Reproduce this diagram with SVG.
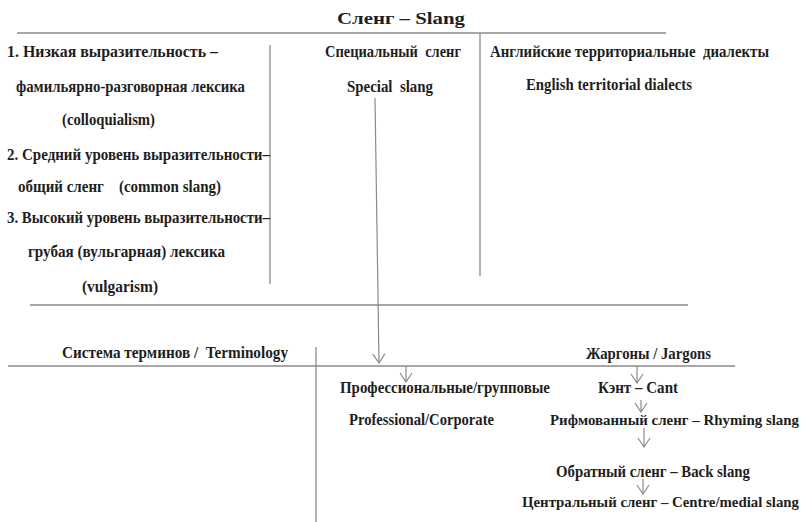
<svg xmlns="http://www.w3.org/2000/svg" width="804" height="522" viewBox="0 0 804 522">
<style>
text{font-family:'Liberation Serif','Times New Roman',serif;font-weight:bold;font-size:16.5px;fill:#1e1e1e}
.sm{font-size:15px}
.ln{stroke:#8a8a8a;stroke-width:1.3;fill:none}
.ar{stroke:#8a8a8a;stroke-width:1.2;fill:none;marker-end:url(#v)}
</style>
<defs>
<marker id="v" viewBox="-1 -7 11 14" refX="9" refY="0" markerWidth="11" markerHeight="14" markerUnits="userSpaceOnUse" orient="auto">
<path d="M0,-6 L9,0 L0,6" fill="none" stroke="#8a8a8a" stroke-width="1.2"/>
</marker>
</defs>
<rect width="804" height="522" fill="#fff"/>
<g id="connectors">
<line class="ln" x1="17" y1="33" x2="666" y2="33"/>
<line class="ln" x1="270" y1="45" x2="270" y2="284"/>
<line class="ln" x1="480" y1="33" x2="480" y2="276"/>
<line class="ln" x1="30" y1="305" x2="688" y2="305"/>
<line class="ln" x1="8" y1="366" x2="735" y2="366"/>
<line class="ln" x1="316" y1="347" x2="316" y2="522"/>
<line class="ar" x1="375" y1="98" x2="379" y2="363"/>
<line class="ar" x1="406" y1="366" x2="406" y2="382"/>
<line class="ar" x1="637" y1="366" x2="637" y2="383"/>
<line class="ar" x1="641" y1="400" x2="641" y2="412"/>
<line class="ar" x1="644" y1="428" x2="644" y2="447"/>
<line class="ar" x1="643" y1="479" x2="643" y2="494"/>
</g>
<g id="title"><text x="401" y="24" text-anchor="middle" textLength="128" lengthAdjust="spacingAndGlyphs">Сленг – Slang</text></g>
<g id="expressiveness">
<text x="7" y="57" textLength="211" lengthAdjust="spacingAndGlyphs">1. Низкая выразительность –</text>
<text x="16" y="92" textLength="229" lengthAdjust="spacingAndGlyphs">фамильярно-разговорная лексика</text>
<text x="62" y="125" textLength="93" lengthAdjust="spacingAndGlyphs">(colloquialism)</text>
<text x="7" y="160" textLength="263" lengthAdjust="spacingAndGlyphs">2. Средний уровень выразительности–</text>
<text x="18" y="192" textLength="203" lengthAdjust="spacingAndGlyphs" xml:space="preserve">общий сленг    (common slang)</text>
<text x="7" y="223" textLength="263" lengthAdjust="spacingAndGlyphs">3. Высокий уровень выразительности–</text>
<text x="28" y="257" textLength="197" lengthAdjust="spacingAndGlyphs">грубая (вульгарная) лексика</text>
<text x="82" y="292" textLength="76" lengthAdjust="spacingAndGlyphs">(vulgarism)</text>
</g>
<g id="special">
<text x="325" y="57" textLength="136" lengthAdjust="spacingAndGlyphs" xml:space="preserve">Специальный  сленг</text>
<text x="347" y="92" textLength="86" lengthAdjust="spacingAndGlyphs" xml:space="preserve">Special  slang</text>
</g>
<g id="dialects">
<text x="490" y="57" textLength="279" lengthAdjust="spacingAndGlyphs" xml:space="preserve">Английские территориальные  диалекты</text>
<text x="526" y="90" textLength="166" lengthAdjust="spacingAndGlyphs">English territorial dialects</text>
</g>
<g id="terminology"><text x="62" y="358" textLength="226" lengthAdjust="spacingAndGlyphs" xml:space="preserve">Система терминов /  Terminology</text></g>
<g id="jargons"><text x="586" y="359" textLength="125" lengthAdjust="spacingAndGlyphs">Жаргоны / Jargons</text></g>
<g id="professional">
<text x="340" y="393" textLength="210" lengthAdjust="spacingAndGlyphs">Профессиональные/групповые</text>
<text x="349" y="425" textLength="145" lengthAdjust="spacingAndGlyphs">Professional/Corporate</text>
</g>
<g id="cant"><text x="598" y="393" textLength="80" lengthAdjust="spacingAndGlyphs">Кэнт – Cant</text></g>
<g id="rhyming"><text class="sm" x="550" y="425" textLength="249" lengthAdjust="spacingAndGlyphs">Рифмованный сленг – Rhyming slang</text></g>
<g id="back"><text x="556" y="477" textLength="194" lengthAdjust="spacingAndGlyphs">Обратный сленг – Back slang</text></g>
<g id="centre"><text class="sm" x="522" y="507" textLength="277" lengthAdjust="spacingAndGlyphs">Центральный сленг – Centre/medial slang</text></g>
</svg>
